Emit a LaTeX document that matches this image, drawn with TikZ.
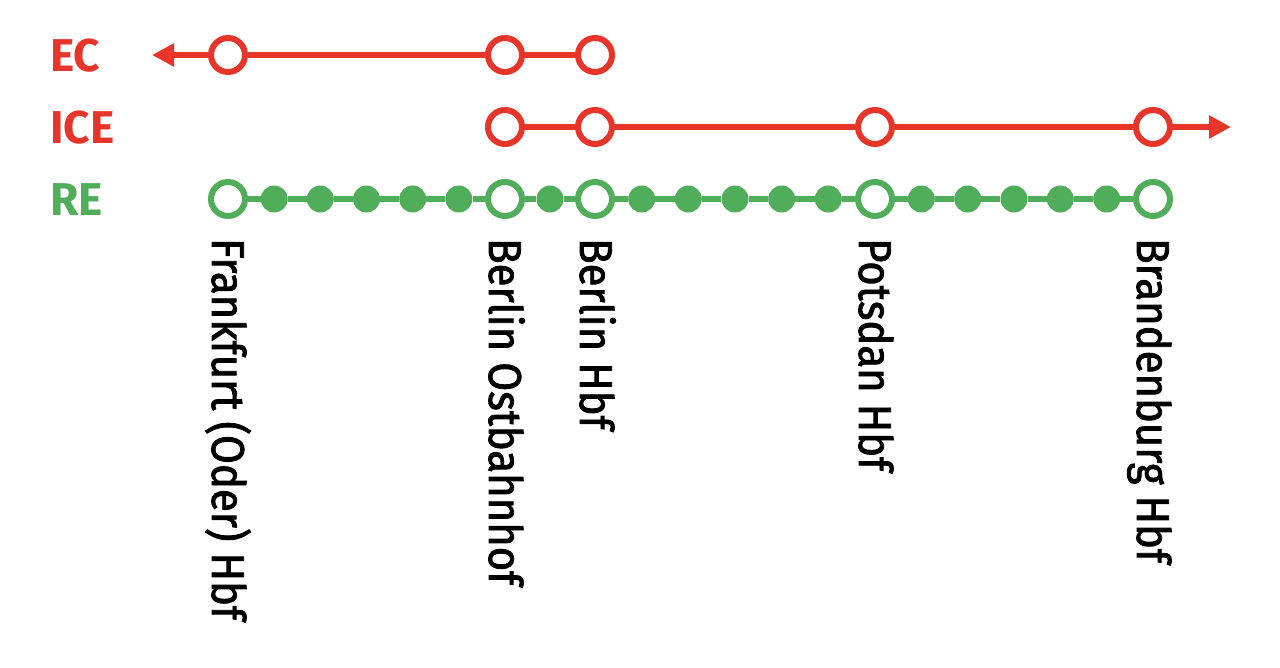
\documentclass[tikz,border=0pt]{standalone}
\usepackage{fontspec}
\setmainfont{Fira Sans}
\newfontfamily\labfont[FakeStretch=0.91,FakeBold=1.8]{Fira Sans}
\newfontfamily\linefont{Fira Sans Bold}
\usetikzlibrary{arrows.meta}
\definecolor{lred}{HTML}{E8352A}
\definecolor{lgreen}{HTML}{50AD5A}
\begin{document}
\begin{tikzpicture}[x=1pt,y=-1pt,
  stn/.style={circle,draw=#1,fill=white,line width=6pt,minimum size=34pt,inner sep=0pt},
  dotn/.style={circle,fill=lgreen,minimum size=27pt,inner sep=0pt},
  redline/.style={draw=lred,line width=6pt},
  greenline/.style={draw=lgreen,line width=5.5pt},
  redarrow/.style={redline,-{Triangle[length=22pt,width=22pt]}},
  linelabel/.style={font=\linefont\fontsize{46}{46}\selectfont,anchor=base west,inner sep=0pt,text=#1},
  stlabel/.style={font=\labfont\fontsize{46}{46}\selectfont,anchor=base west,inner sep=0pt,rotate=-90,text=black}]
\useasboundingbox (0,0) rectangle (1280,667);
% line labels
\node[linelabel=lred] (lEC) at (50,71) {EC};
\node[linelabel=lred] (lICE) at (50,143) {ICE};
\node[linelabel=lgreen] (lRE) at (50,215) {RE};
% RE intermediate dots
\foreach \i/\x in {1/274.2,2/320.3,3/366.5,4/412.7,5/458.8,6/550,7/641.7,8/688.3,9/735,10/781.7,11/828.3,12/921.3,13/967.7,14/1014,15/1060.3,16/1106.7}
  \node[dotn] (d\i) at (\x,199) {};
% RE stations
\node[stn=lgreen] (rF) at (228,199) {};
\node[stn=lgreen] (rO) at (505,199) {};
\node[stn=lgreen] (rB) at (595,199) {};
\node[stn=lgreen] (rP) at (875,199) {};
\node[stn=lgreen] (rR) at (1153,199) {};
% EC stations
\node[stn=lred] (eF) at (228,55) {};
\node[stn=lred] (eO) at (505,55) {};
\node[stn=lred] (eB) at (595,55) {};
\coordinate (eEnd) at (152,55);
% ICE stations
\node[stn=lred] (iO) at (505,127) {};
\node[stn=lred] (iB) at (595,127) {};
\node[stn=lred] (iP) at (875,127) {};
\node[stn=lred] (iR) at (1153,127) {};
\coordinate (iEnd) at (1231,127);
% connectors
\draw[redarrow] (eF) -- (eEnd);
\draw[redline] (eF) -- (eO);
\draw[redline] (eO) -- (eB);
\draw[redline] (iO) -- (iB);
\draw[redline] (iB) -- (iP);
\draw[redline] (iP) -- (iR);
\draw[redarrow] (iR) -- (iEnd);
\draw[greenline] (rF) -- (d1);
\draw[greenline] (d1) -- (d2);
\draw[greenline] (d2) -- (d3);
\draw[greenline] (d3) -- (d4);
\draw[greenline] (d4) -- (d5);
\draw[greenline] (d5) -- (rO);
\draw[greenline] (rO) -- (d6);
\draw[greenline] (d6) -- (rB);
\draw[greenline] (rB) -- (d7);
\draw[greenline] (d7) -- (d8);
\draw[greenline] (d8) -- (d9);
\draw[greenline] (d9) -- (d10);
\draw[greenline] (d10) -- (d11);
\draw[greenline] (d11) -- (rP);
\draw[greenline] (rP) -- (d12);
\draw[greenline] (d12) -- (d13);
\draw[greenline] (d13) -- (d14);
\draw[greenline] (d14) -- (d15);
\draw[greenline] (d15) -- (d16);
\draw[greenline] (d16) -- (rR);
% station labels
\node[stlabel] (sF) at (212,238) {Frankfurt (Oder) Hbf};
\node[stlabel] (sO) at (489,238) {Berlin Ostbahnhof};
\node[stlabel] (sB) at (580,238) {Berlin Hbf};
\node[stlabel] (sP) at (859,238) {Potsdan Hbf};
\node[stlabel] (sR) at (1137,238) {Brandenburg Hbf};
\end{tikzpicture}
\end{document}
